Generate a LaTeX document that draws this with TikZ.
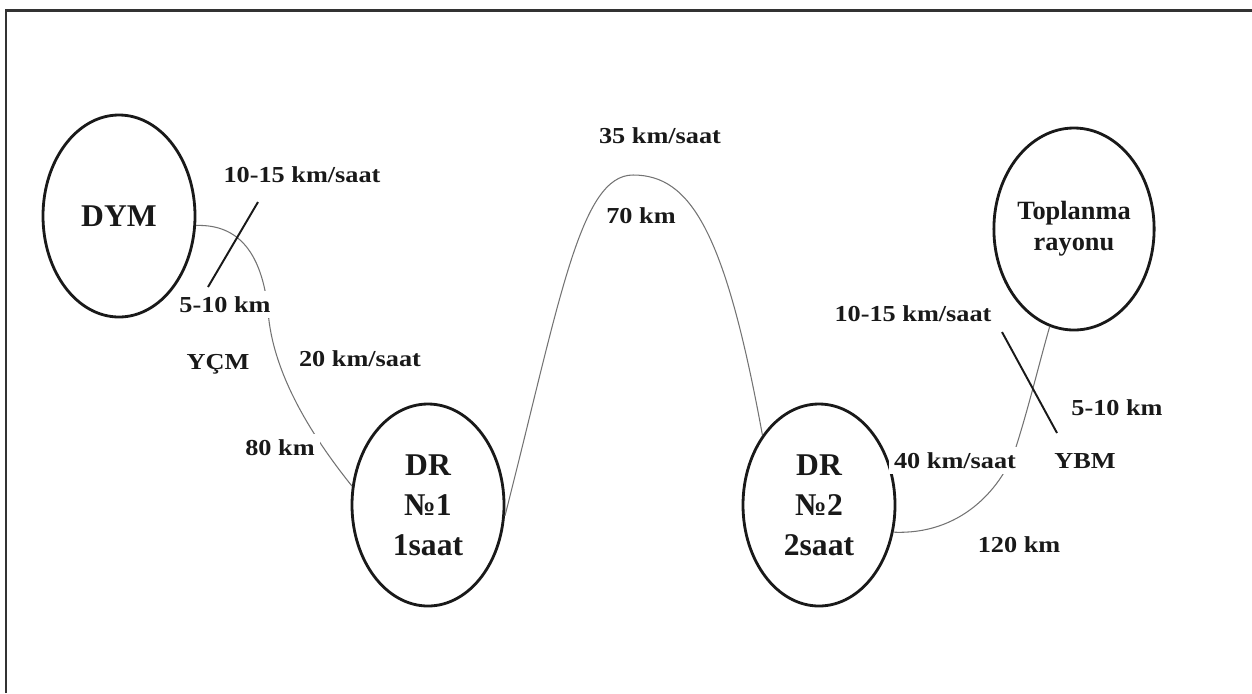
\documentclass[tikz,border=0pt]{standalone}
\usepackage{fontspec}
\setmainfont{Liberation Serif}
\newfontfamily\lblfont[FakeStretch=1.15]{Liberation Serif}
\usetikzlibrary{shapes}
\tikzset{
punkt/.style={
	draw=black!90, ellipse, line width=1.6pt, inner sep=0pt,
	minimum width=3.04cm, minimum height=4.04cm, align=center,
	text=black!90, font=\bfseries\fontsize{18}{22.8}\selectfont},
yazi/.style={
	fill=white, inner sep=3pt, anchor=base, text=black!90,
	font=\lblfont\bfseries\fontsize{13}{15}\selectfont},
yol/.style={draw=black!55, line width=0.6pt},
xett/.style={draw=black!90, line width=1.1pt},
rahmen/.style={draw=black!80, line width=1.5pt}
}

\begin{document}
\begin{tikzpicture}[x=0.2mm, y=-0.2mm]
	\useasboundingbox (0,0) rectangle (1252,693);
	\draw[rahmen] (6,693) -- (6,10.5) -- (1252,10.5);

	\node[punkt] (dym) at (119,216) {DYM};
	\node[punkt] (dr1) at (428,505) {DR\\№1\\1saat};
	\node[punkt] (dr2) at (819,505) {DR\\№2\\2saat};
	\node[punkt, font=\bfseries\fontsize{15}{17.6}\selectfont] (toplanma) at (1074,229) {Toplanma\\rayonu};

	\draw[yol] (dym.-7) .. controls (240,224) and (262,255) .. (268,310)
		.. controls (272,375) and (315,440) .. (dr1.166);
	\draw[yol] (dr1.-8) .. controls (560,300) and (580,175) .. (633,175)
		.. controls (690,175) and (725,230) .. (dr2.129);
	\draw[yol] (dr2.-20) .. controls (960,535) and (1000,490) .. (1015,450)
		.. controls (1028,410) and (1040,360) .. (toplanma.-104);

	\coordinate (ycm1) at (258,202);
	\coordinate (ycm2) at (208,287);
	\coordinate (ybm1) at (1002,332);
	\coordinate (ybm2) at (1057,433);
	\draw[xett] (ycm1) -- (ycm2);
	\draw[xett] (ybm1) -- (ybm2);

	\node[yazi] (ycmsp) at (302,182) {10-15 km/saat};
	\node[yazi] (ycmkm) at (225,312) {5-10 km};
	\node[yazi] (ycm) at (218,369) {YÇM};
	\node[yazi] (sp1) at (360,366) {20 km/saat};
	\node[yazi] (km1) at (280,455) {80 km};
	\node[yazi] (sp2) at (660,143) {35 km/saat};
	\node[yazi] (km2) at (641,223) {70 km};
	\node[yazi] (ybmsp) at (913,321) {10-15 km/saat};
	\node[yazi] (ybmkm) at (1117,415) {5-10 km};
	\node[yazi] (ybm) at (1085,468) {YBM};
	\node[yazi] (sp3) at (955,468) {40 km/saat};
	\node[yazi] (km3) at (1019,552) {120 km};
\end{tikzpicture}
\end{document}
